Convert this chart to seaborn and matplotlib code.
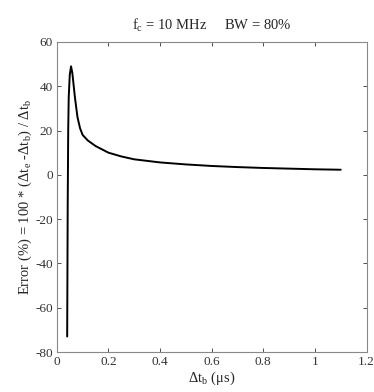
import pandas as pd
import seaborn as sns
import matplotlib
matplotlib.use("Agg")
import matplotlib.pyplot as plt

# values
dt_b = [0.040, 0.041, 0.042, 0.044, 0.046, 0.050, 0.055, 0.060, 0.070, 0.080,
        0.090, 0.100, 0.120, 0.150, 0.200, 0.250, 0.300, 0.400, 0.500, 0.600,
        0.700, 0.800, 0.900, 1.000, 1.100]
error = [-73, -45, -15, 20, 35, 45, 49, 46, 35, 26,
         21, 18, 15.5, 13, 10, 8.3, 7, 5.6, 4.7, 4.0,
         3.5, 3.1, 2.8, 2.5, 2.3]
xticks = [0, 0.2, 0.4, 0.6, 0.8, 1, 1.2]
yticks = [-80, -60, -40, -20, 0, 20, 40, 60]

df = pd.DataFrame({"dt_b": dt_b, "error": error})

sns.set_style("ticks")
plt.rcParams["font.family"] = ["Liberation Serif", "DejaVu Serif"]
plt.rcParams["mathtext.fontset"] = "custom"
plt.rcParams["mathtext.rm"] = "Liberation Serif"
plt.rcParams["mathtext.it"] = "Liberation Serif:italic"
plt.rcParams["axes.unicode_minus"] = False

fig = plt.figure(figsize=(3.74, 3.92), dpi=100)
ax = fig.add_axes([0.152, 0.102, 0.828, 0.791])
sns.lineplot(data=df, x="dt_b", y="error", sort=False, color="black", lw=1.4, ax=ax)

ax.set_xlim(0, 1.2)
ax.set_ylim(-80, 60)
ax.set_xticks(xticks)
ax.set_xticklabels(["0", "0.2", "0.4", "0.6", "0.8", "1", "1.2"])
ax.set_yticks(yticks)
ax.tick_params(direction="in", top=True, right=True, labelsize=9.5, length=3, width=0.6,
               colors="#333333", pad=3)
for s in ax.spines.values():
    s.set_linewidth(0.8)
    s.set_color("#888888")

ax.set_xlabel(r"Δt$_\mathrm{b}$ (μs)", fontsize=10.5, labelpad=1)
ax.set_ylabel(r"Error (%) = 100 * (Δt$_\mathrm{e}$ -Δt$_\mathrm{b}$) / Δt$_\mathrm{b}$", fontsize=10.5, labelpad=1)
ax.set_title(r"f$_\mathrm{c}$ = 10 MHz     BW = 80%", fontsize=10.5, pad=9)

fig.savefig("out.png", dpi=100)
